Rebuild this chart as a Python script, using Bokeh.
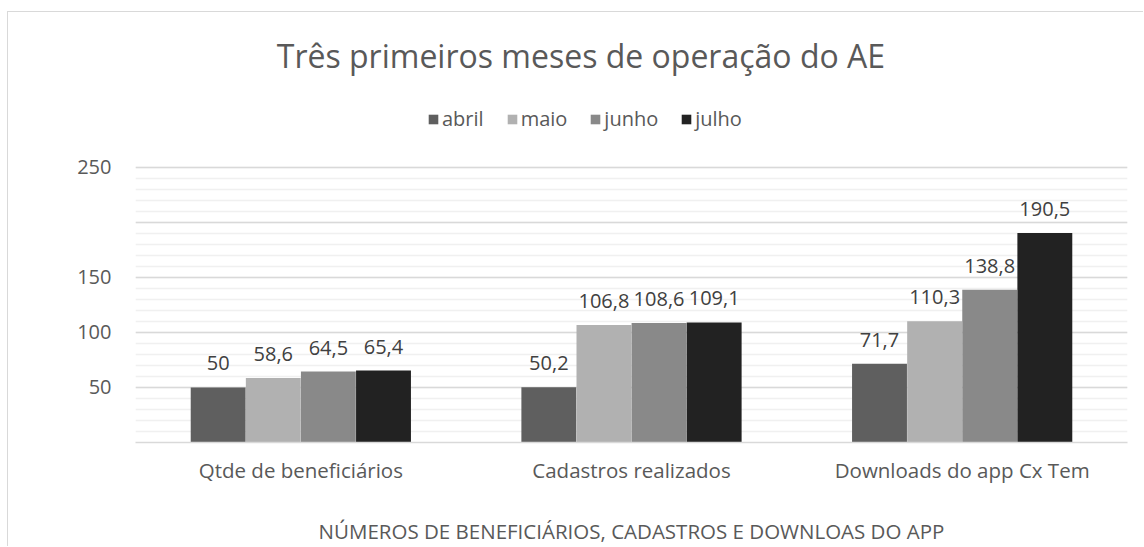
from bokeh.plotting import figure
from bokeh.models import (ColumnDataSource, FactorRange, Range1d, FixedTicker,
                          LabelSet, Label, Legend, LegendItem)
from bokeh.transform import dodge
from bokeh.embed import file_html
from bokeh.resources import INLINE
from bokeh.core.properties import value

# ---- data ----
categories = ["Qtde de beneficiários", "Cadastros realizados", "Downloads do app Cx Tem"]
months = ["abril", "maio", "junho", "julho"]
abril = [50, 50.2, 71.7]
maio = [58.6, 106.8, 110.3]
junho = [64.5, 108.6, 138.8]
julho = [65.4, 109.1, 190.5]
y_tick_labels = [50, 100, 150, 250]
title_text = "Três primeiros meses de operação do AE"
x_title = "NÚMEROS DE BENEFICIÁRIOS, CADASTROS E DOWNLOAS DO APP"

# ---- style ----
colors = ["#5f5f5f", "#b1b1b1", "#898989", "#222222"]
offsets = [-0.25, -0.0833, 0.0833, 0.25]
bar_w = 0.166
FONT = "Open Sans"
TXT = "#595959"
Y_MAX_AXIS = 250          # last gridline
Y_TOP = 390.9             # headroom so title + legend sit inside the frame


def fmt(v):
    return f"{v:g}".replace(".", ",")


data = {"cat": categories}
for m, vals in zip(months, [abril, maio, junho, julho]):
    data[m] = vals
    data[m + "_lbl"] = [fmt(v) for v in vals]
src = ColumnDataSource(data)

p = figure(x_range=FactorRange(*categories, range_padding=0),
           y_range=Range1d(0, Y_TOP),
           width=1136, height=535, output_backend="svg", toolbar_location=None,
           min_border_left=127, min_border_right=17, min_border_top=0,
           min_border_bottom=105)
p.styles = {"margin-top": "11px", "margin-left": "7px",
            "border-top": "1px solid #d9d9d9", "border-left": "1px solid #d9d9d9"}

renderers = []
for m, c, off in zip(months, colors, offsets):
    r = p.vbar(x=dodge("cat", off, range=p.x_range), top=m, width=bar_w,
               source=src, fill_color=c, line_color=None)
    renderers.append(r)
    p.add_layout(LabelSet(x=dodge("cat", off, range=p.x_range), y=m, text=m + "_lbl",
                          source=src, text_align="center", text_baseline="alphabetic",
                          y_offset=17, text_font=value(FONT),
                          text_font_size=value("20px"), text_color=value("#404040")))

# grid
p.ygrid.ticker = FixedTicker(ticks=list(range(0, Y_MAX_AXIS + 1, 50)),
                             minor_ticks=list(range(0, Y_MAX_AXIS + 1, 10)))
p.ygrid.grid_line_color = "#d9d9d9"
p.ygrid.grid_line_width = 1.5
p.ygrid.minor_grid_line_color = "#f0f0f0"
p.ygrid.minor_grid_line_width = 1.5
p.xgrid.grid_line_color = None
p.outline_line_color = None

# y axis
p.yaxis.ticker = FixedTicker(ticks=y_tick_labels)
p.yaxis.axis_line_color = None
p.yaxis.major_tick_line_color = None
p.yaxis.minor_tick_line_color = None
p.yaxis.major_label_standoff = 18
p.yaxis.major_label_text_font = FONT
p.yaxis.major_label_text_font_size = "20px"
p.yaxis.major_label_text_color = TXT

# x axis
p.xaxis.axis_line_color = "#d9d9d9"
p.xaxis.axis_line_width = 1.5
p.xaxis.major_tick_line_color = None
p.xaxis.minor_tick_line_color = None
p.xaxis.major_label_standoff = 7
p.xaxis.major_label_text_font = FONT
p.xaxis.major_label_text_font_size = "20.5px"
p.xaxis.major_label_text_color = TXT
p.xaxis.axis_label = x_title
p.xaxis.axis_label_standoff = 30
p.xaxis.axis_label_text_font = FONT
p.xaxis.axis_label_text_font_size = "20.5px"
p.xaxis.axis_label_text_font_style = "normal"
p.xaxis.axis_label_text_color = TXT

# title (centered over the whole chart area)
p.add_layout(Label(x=1.347, y=352.0, text=title_text, text_align="center",
                   text_baseline="alphabetic", text_font=FONT,
                   text_font_size="32px", text_color=TXT))

# legend
legend = Legend(items=[LegendItem(label=m, renderers=[r]) for m, r in zip(months, renderers)],
                location=(292, 310), orientation="horizontal",
                glyph_width=12, glyph_height=12, label_standoff=3, spacing=22,
                padding=0, margin=0, border_line_color=None, background_fill_alpha=0,
                label_text_font=FONT, label_text_font_size="20px",
                label_text_color=TXT)
p.add_layout(legend)

open("out.html", "w").write(file_html(p, INLINE))
